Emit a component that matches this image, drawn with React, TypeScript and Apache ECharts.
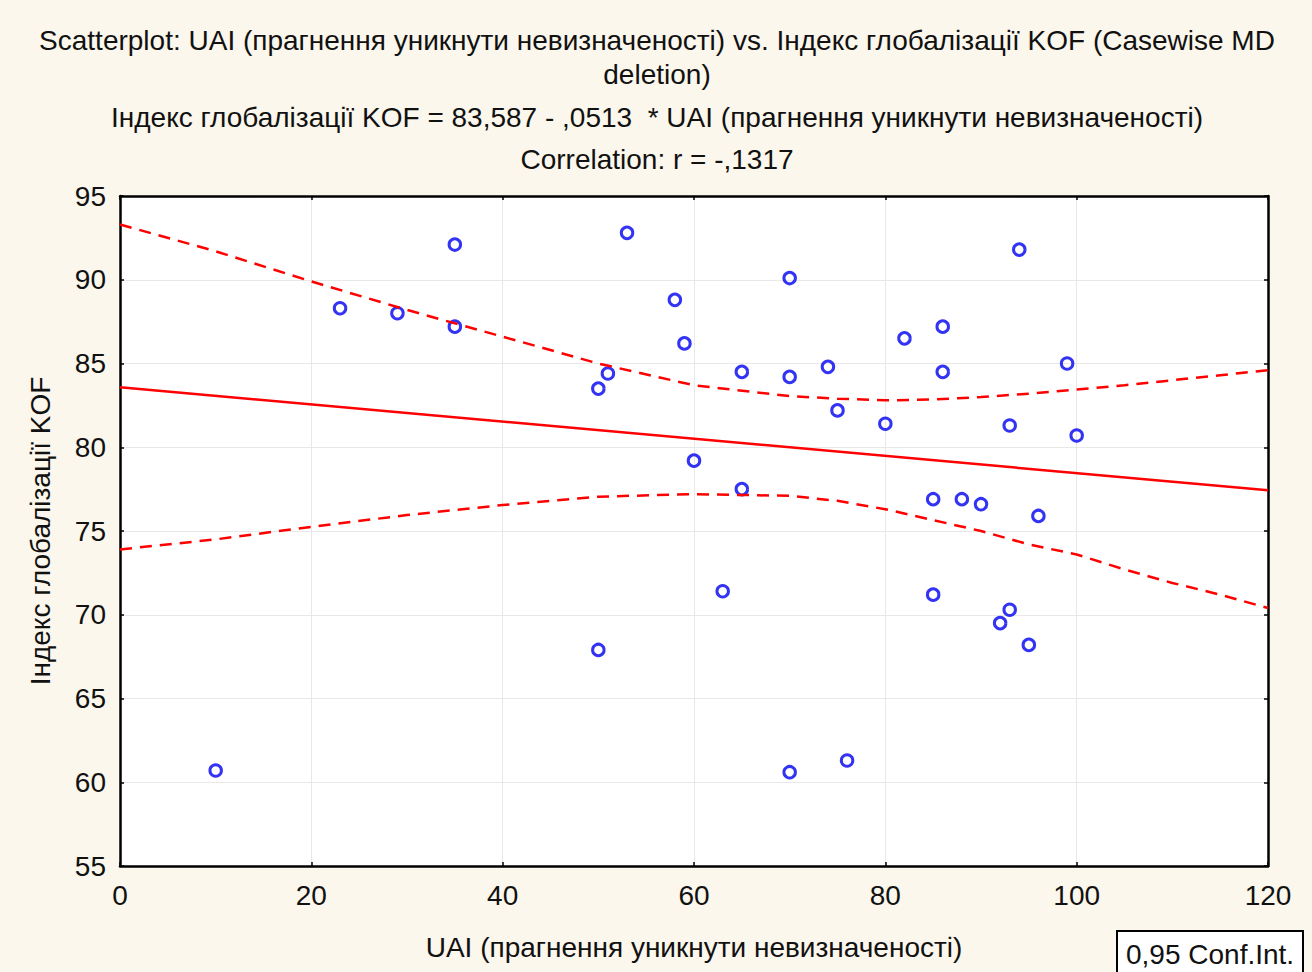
import React, { useEffect, useRef } from "react";
import * as echarts from "echarts";

const titleLines = [
  "Scatterplot: UAI (прагнення уникнути невизначеності) vs. Індекс глобалізації KOF (Casewise MD",
  "deletion)",
  "Індекс глобалізації KOF = 83,587 - ,0513  * UAI (прагнення уникнути невизначеності)",
  "Correlation: r = -,1317",
];
const xAxisName = "UAI (прагнення уникнути невизначеності)";
const yAxisName = "Індекс глобалізації KOF";
const legendLabel = "0,95 Conf.Int.";

// observed cases: [UAI, KOF]
const points: [number, number][] = [
  [10, 60.7], [23, 88.3], [29, 88.0], [35, 92.1], [35, 87.2], [50, 83.5],
  [51, 84.4], [50, 67.9], [53, 92.8], [58, 88.8], [59, 86.2], [60, 79.2],
  [63, 71.4], [65, 84.5], [65, 77.5], [70, 90.1], [70, 84.2], [70, 60.6],
  [74, 84.8], [75, 82.2], [76, 61.3], [80, 81.4], [82, 86.5], [85, 76.9],
  [85, 71.2], [86, 87.2], [86, 84.5], [88, 76.9], [90, 76.6], [92, 69.5],
  [93, 70.3], [93, 81.3], [94, 91.8], [95, 68.2], [96, 75.9], [99, 85.0],
  [100, 80.7],
];

// fitted line endpoints (83,587 - ,0513*x at x=0 and x=120)
const fitLine: [number, number][] = [
  [0, 83.587],
  [120, 77.431],
];

const bandX = [0, 10, 20, 30, 40, 50, 60, 70, 75, 80, 85, 90, 95, 100, 105, 110, 115, 120];
const upperBand = [93.3, 91.7, 89.9, 88.2, 86.6, 85.0, 83.7, 83.05, 82.9, 82.8, 82.85, 83.0, 83.2, 83.45, 83.7, 84.0, 84.3, 84.6];
const lowerBand = [73.9, 74.5, 75.25, 75.95, 76.55, 77.05, 77.2, 77.1, 76.8, 76.3, 75.65, 75.0, 74.2, 73.6, 72.7, 71.9, 71.2, 70.4];

const FONT = '"Liberation Sans", Arial, sans-serif';

export default function App() {
  const ref = useRef<HTMLDivElement>(null);
  useEffect(() => {
    if (!ref.current) return;
    const chart = echarts.init(ref.current, undefined, { renderer: "svg" });
    const txt = { fontFamily: FONT, fontSize: 28, color: "#111" };
    const axisCommon = {
      type: "value" as const,
      axisLine: { show: true, onZero: false, lineStyle: { color: "#000", width: 2.5 } },
      axisTick: { show: true, inside: true, length: 4, lineStyle: { color: "#000", width: 1.5 } },
    };
    chart.setOption({
      animation: false,
      backgroundColor: "#fbf7ec",
      textStyle: { fontFamily: FONT },
      grid: {
        left: 120,
        right: 44,
        top: 196,
        bottom: 106,
        show: true,
        backgroundColor: "#ffffff",
        borderWidth: 0,
      },
      xAxis: [
        {
          ...axisCommon,
          min: 0,
          max: 120,
          interval: 20,
          position: "bottom",
          name: xAxisName,
          nameLocation: "middle",
          nameGap: 67,
          nameTextStyle: { ...txt },
          axisLabel: { ...txt, margin: 15 },
          splitLine: { show: true, lineStyle: { color: "#e8e8e8", width: 1 } },
        },
        {
          ...axisCommon,
          min: 0,
          max: 120,
          interval: 20,
          position: "top",
          axisLabel: { show: false },
          splitLine: { show: false },
        },
      ],
      yAxis: [
        {
          ...axisCommon,
          min: 55,
          max: 95,
          interval: 5,
          position: "left",
          name: yAxisName,
          nameLocation: "middle",
          nameRotate: 90,
          nameGap: 66,
          nameTextStyle: { ...txt },
          axisLabel: { ...txt, margin: 14 },
          splitLine: { show: true, lineStyle: { color: "#e8e8e8", width: 1 } },
        },
        {
          ...axisCommon,
          min: 55,
          max: 95,
          interval: 5,
          position: "right",
          axisLabel: { show: false },
          splitLine: { show: false },
        },
      ],
      series: [
        {
          type: "scatter",
          data: points,
          symbol: "circle",
          symbolSize: 11.5,
          z: 2,
          itemStyle: { color: "rgba(255,255,255,0)", borderColor: "#0000f0", borderWidth: 3 },
        },
        {
          type: "line",
          data: fitLine,
          symbol: "none",
          z: 3,
          lineStyle: { color: "#ff0000", width: 2.5 },
        },
        {
          type: "line",
          data: bandX.map((x, i) => [x, upperBand[i]]),
          symbol: "none",
          z: 3,
          lineStyle: { color: "#ff0000", width: 2.5, type: [12, 8] },
        },
        {
          type: "line",
          data: bandX.map((x, i) => [x, lowerBand[i]]),
          symbol: "none",
          z: 3,
          lineStyle: { color: "#ff0000", width: 2.5, type: [12, 8] },
        },
      ],
      graphic: [
        ...titleLines.map((t, i) => ({
          type: "text",
          x: 657,
          y: [40, 74, 117, 159][i],
          style: {
            text: t,
            fill: "#111",
            font: `28px ${FONT}`,
            align: "center",
            verticalAlign: "middle",
          },
        })),
        {
          type: "rect",
          shape: { x: 1117, y: 931, width: 186, height: 52 },
          style: { fill: "#ffffff", stroke: "#000", lineWidth: 2 },
        },
        {
          type: "text",
          x: 1126,
          y: 954,
          style: {
            text: legendLabel,
            fill: "#111",
            font: `28px ${FONT}`,
            align: "left",
            verticalAlign: "middle",
          },
        },
      ],
    });
    return () => chart.dispose();
  }, []);
  return (
    <div
      ref={ref}
      style={{ position: "fixed", left: 0, top: 0, width: 1312, height: 972 }}
    />
  );
}
